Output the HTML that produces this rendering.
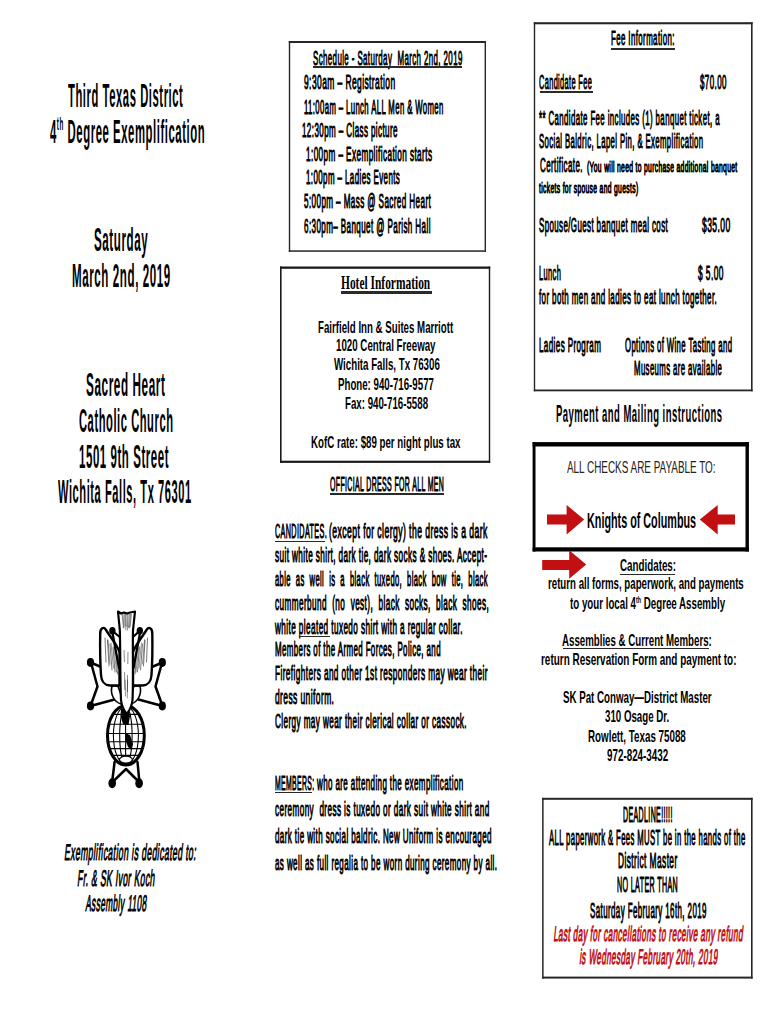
<!DOCTYPE html>
<html><head><meta charset="utf-8"><title>Third Texas District 4th Degree Exemplification</title>
<style>
html,body{margin:0;padding:0;background:#fff;}
body{width:770px;height:1024px;position:relative;overflow:hidden;font-family:"Liberation Sans", sans-serif;}
.t{position:absolute;white-space:pre;transform-origin:0 0;}
.fa,.fn{font-family:"Liberation Sans", sans-serif;}
.fa{letter-spacing:0.05em;}
.fs{font-family:"Liberation Serif", serif;}

.u{position:absolute;background:#2a2a2a;}
</style></head><body>
<div id="l1" class="t fa" style="left:68.02px;top:79.30px;font-weight:700;font-size:33.43px;line-height:33.43px;color:#000;transform:scaleX(0.3364)">Third Texas District</div>
<div id="l2" class="t fa" style="left:49.63px;top:116.42px;font-weight:700;font-size:32.70px;line-height:32.70px;color:#000;transform:scaleX(0.3462)">4<span style="font-size:0.55em;position:relative;top:-0.75em">th</span> Degree Exemplification</div>
<div id="l3" class="t fa" style="left:94.01px;top:223.15px;font-weight:700;font-size:33.14px;line-height:33.14px;color:#000;transform:scaleX(0.3504)">Saturday</div>
<div id="l4" class="t fa" style="left:72.05px;top:259.69px;font-weight:700;font-size:32.85px;line-height:32.85px;color:#000;transform:scaleX(0.3528)">March 2nd, 2019</div>
<div id="l5" class="t fa" style="left:86.41px;top:367.75px;font-weight:700;font-size:33.14px;line-height:33.14px;color:#000;transform:scaleX(0.3542)">Sacred Heart</div>
<div id="l6" class="t fa" style="left:78.91px;top:403.95px;font-weight:700;font-size:33.14px;line-height:33.14px;color:#000;transform:scaleX(0.3368)">Catholic Church</div>
<div id="l7" class="t fa" style="left:78.97px;top:439.95px;font-weight:700;font-size:33.14px;line-height:33.14px;color:#000;transform:scaleX(0.3459)">1501 9th Street</div>
<div id="l8" class="t fa" style="left:58.12px;top:475.05px;font-weight:700;font-size:33.14px;line-height:33.14px;color:#000;transform:scaleX(0.3354)">Wichita Falls, Tx 76301</div>
<div id="l9" class="t fa" style="left:66.29px;top:840.51px;font-weight:400;-webkit-text-stroke:1.00px #000;font-size:22.67px;line-height:22.67px;color:#000;transform:scaleX(0.3802) skewX(-15deg)">Exemplification is dedicated to:</div>
<div id="l10" class="t fa" style="left:78.77px;top:867.11px;font-weight:400;-webkit-text-stroke:1.00px #000;font-size:22.67px;line-height:22.67px;color:#000;transform:scaleX(0.3757) skewX(-15deg)">Fr. &amp; SK Ivor Koch</div>
<div id="l11" class="t fa" style="left:87.04px;top:892.41px;font-weight:400;-webkit-text-stroke:1.00px #000;font-size:22.67px;line-height:22.67px;color:#000;transform:scaleX(0.3661) skewX(-15deg)">Assembly 1108</div>
<div id="s0" class="t fa" style="left:312.89px;top:47.91px;font-weight:400;-webkit-text-stroke:1.00px #000;font-size:20.78px;line-height:20.78px;color:#000;transform:scaleX(0.3811)">Schedule - Saturday  March 2nd, 2019</div>
<div id="s1" class="t fa" style="left:303.89px;top:72.42px;font-weight:400;-webkit-text-stroke:1.00px #000;font-size:20.06px;line-height:20.06px;color:#000;transform:scaleX(0.4215)">9:30am – Registration</div>
<div id="s2" class="t fa" style="left:303.60px;top:96.52px;font-weight:400;-webkit-text-stroke:1.00px #000;font-size:20.06px;line-height:20.06px;color:#000;transform:scaleX(0.3862)">11:00am – Lunch ALL Men &amp; Women</div>
<div id="s3" class="t fa" style="left:302.09px;top:119.92px;font-weight:400;-webkit-text-stroke:1.00px #000;font-size:20.06px;line-height:20.06px;color:#000;transform:scaleX(0.4010)">12:30pm – Class picture</div>
<div id="s4" class="t fa" style="left:305.59px;top:144.02px;font-weight:400;-webkit-text-stroke:1.00px #000;font-size:20.06px;line-height:20.06px;color:#000;transform:scaleX(0.4082)">1:00pm – Exemplification starts</div>
<div id="s5" class="t fa" style="left:305.60px;top:167.22px;font-weight:400;-webkit-text-stroke:1.00px #000;font-size:20.06px;line-height:20.06px;color:#000;transform:scaleX(0.3974)">1:00pm – Ladies Events</div>
<div id="s6" class="t fa" style="left:303.60px;top:191.12px;font-weight:400;-webkit-text-stroke:1.00px #000;font-size:20.06px;line-height:20.06px;color:#000;transform:scaleX(0.4040)">5:00pm – Mass @ Sacred Heart</div>
<div id="s7" class="t fa" style="left:303.59px;top:216.12px;font-weight:400;-webkit-text-stroke:1.00px #000;font-size:20.06px;line-height:20.06px;color:#000;transform:scaleX(0.4017)">6:30pm– Banquet @ Parish Hall</div>
<div id="h0" class="t fs" style="left:341.33px;top:272.99px;font-weight:700;font-size:19.24px;line-height:19.24px;color:#000;transform:scaleX(0.5944)">Hotel Information</div>
<div id="h1" class="t fn" style="left:318.03px;top:319.77px;font-weight:700;font-size:15.99px;line-height:15.99px;color:#000;transform:scaleX(0.6064)">Fairfield Inn &amp; Suites Marriott</div>
<div id="h2" class="t fn" style="left:335.82px;top:337.97px;font-weight:700;font-size:15.99px;line-height:15.99px;color:#000;transform:scaleX(0.6088)">1020 Central Freeway</div>
<div id="h3" class="t fn" style="left:334.30px;top:356.87px;font-weight:700;font-size:15.99px;line-height:15.99px;color:#000;transform:scaleX(0.6082)">Wichita Falls, Tx 76306</div>
<div id="h4" class="t fn" style="left:337.82px;top:376.87px;font-weight:700;font-size:15.99px;line-height:15.99px;color:#000;transform:scaleX(0.6065)">Phone: 940-716-9577</div>
<div id="h5" class="t fn" style="left:344.61px;top:395.97px;font-weight:700;font-size:15.99px;line-height:15.99px;color:#000;transform:scaleX(0.6067)">Fax: 940-716-5588</div>
<div id="h6" class="t fn" style="left:311.42px;top:434.57px;font-weight:700;font-size:15.99px;line-height:15.99px;color:#000;transform:scaleX(0.6075)">KofC rate: $89 per night plus tax</div>
<div id="d0" class="t fa" style="left:329.59px;top:473.55px;font-weight:400;-webkit-text-stroke:1.00px #000;font-size:20.49px;line-height:20.49px;color:#000;transform:scaleX(0.3413)">OFFICIAL DRESS FOR ALL MEN</div>
<div id="c1a" class="t fa" style="left:274.60px;top:521.27px;font-weight:400;-webkit-text-stroke:1.00px #000;font-size:20.35px;line-height:20.35px;color:#000;transform:scaleX(0.3557)">CANDIDATES.</div>
<div id="c1b" class="t fa" style="left:329.39px;top:521.27px;font-weight:400;-webkit-text-stroke:1.00px #000;font-size:20.35px;line-height:20.35px;color:#000;transform:scaleX(0.4241)">(except for clergy) the dress is a dark</div>
<div id="c2" class="t fa" style="left:274.99px;top:545.27px;font-weight:400;-webkit-text-stroke:1.00px #000;font-size:20.35px;line-height:20.35px;color:#000;transform:scaleX(0.4010)">suit white shirt, dark tie, dark socks &amp; shoes. Accept-</div>
<div id="c3" class="t fa" style="left:274.96px;top:569.07px;font-weight:400;-webkit-text-stroke:1.00px #000;font-size:20.35px;line-height:20.35px;color:#000;transform:scaleX(0.3730)">able  as  well  is  a  black  tuxedo,  black  bow  tie,  black</div>
<div id="c4" class="t fa" style="left:274.97px;top:592.77px;font-weight:400;-webkit-text-stroke:1.00px #000;font-size:20.35px;line-height:20.35px;color:#000;transform:scaleX(0.4023)">cummerbund  (no  vest),  black  socks,  black  shoes,</div>
<div id="c5" class="t fa" style="left:274.97px;top:616.77px;font-weight:400;-webkit-text-stroke:1.00px #000;font-size:20.35px;line-height:20.35px;color:#000;transform:scaleX(0.4024)">white pleated tuxedo shirt with a regular collar.</div>
<div id="c6" class="t fa" style="left:275.09px;top:639.27px;font-weight:400;-webkit-text-stroke:1.00px #000;font-size:20.35px;line-height:20.35px;color:#000;transform:scaleX(0.3893)">Members of the Armed Forces, Police, and</div>
<div id="c7" class="t fa" style="left:275.10px;top:663.17px;font-weight:400;-webkit-text-stroke:1.00px #000;font-size:20.35px;line-height:20.35px;color:#000;transform:scaleX(0.4052)">Firefighters and other 1st responders may wear their</div>
<div id="c8" class="t fa" style="left:275.00px;top:687.27px;font-weight:400;-webkit-text-stroke:1.00px #000;font-size:20.35px;line-height:20.35px;color:#000;transform:scaleX(0.4146)">dress uniform.</div>
<div id="c9" class="t fa" style="left:275.09px;top:710.77px;font-weight:400;-webkit-text-stroke:1.00px #000;font-size:20.35px;line-height:20.35px;color:#000;transform:scaleX(0.4005)">Clergy may wear their clerical collar or cassock.</div>
<div id="m1a" class="t fa" style="left:274.91px;top:772.57px;font-weight:400;-webkit-text-stroke:1.00px #000;font-size:20.35px;line-height:20.35px;color:#000;transform:scaleX(0.3380)">MEMBERS:</div>
<div id="m1b" class="t fa" style="left:317.29px;top:772.57px;font-weight:400;-webkit-text-stroke:1.00px #000;font-size:20.35px;line-height:20.35px;color:#000;transform:scaleX(0.3924)">who are attending the exemplification</div>
<div id="m2" class="t fa" style="left:275.01px;top:799.17px;font-weight:400;-webkit-text-stroke:1.00px #000;font-size:20.35px;line-height:20.35px;color:#000;transform:scaleX(0.4009)">ceremony  dress is tuxedo or dark suit white shirt and</div>
<div id="m3" class="t fa" style="left:275.02px;top:826.37px;font-weight:400;-webkit-text-stroke:1.00px #000;font-size:20.35px;line-height:20.35px;color:#000;transform:scaleX(0.3943)">dark tie with social baldric. New Uniform is encouraged</div>
<div id="m4" class="t fa" style="left:275.01px;top:852.67px;font-weight:400;-webkit-text-stroke:1.00px #000;font-size:20.35px;line-height:20.35px;color:#000;transform:scaleX(0.3948)">as well as full regalia to be worn during ceremony by all.</div>
<div id="f0" class="t fa" style="left:611.16px;top:28.37px;font-weight:400;-webkit-text-stroke:1.00px #000;font-size:20.35px;line-height:20.35px;color:#000;transform:scaleX(0.3880)">Fee Information:</div>
<div id="f1" class="t fa" style="left:539.18px;top:72.42px;font-weight:400;-webkit-text-stroke:1.00px #000;font-size:20.06px;line-height:20.06px;color:#000;transform:scaleX(0.3678)">Candidate Fee</div>
<div id="f2" class="t fa" style="left:700.32px;top:72.42px;font-weight:400;-webkit-text-stroke:1.00px #000;font-size:20.06px;line-height:20.06px;color:#000;transform:scaleX(0.3985)">$70.00</div>
<div id="f3" class="t fa" style="left:539.00px;top:108.37px;font-weight:400;-webkit-text-stroke:1.00px #000;font-size:20.35px;line-height:20.35px;color:#000;transform:scaleX(0.3862)">** Candidate Fee includes (1) banquet ticket, a</div>
<div id="f4" class="t fa" style="left:539.00px;top:131.27px;font-weight:400;-webkit-text-stroke:1.00px #000;font-size:20.35px;line-height:20.35px;color:#000;transform:scaleX(0.3811)">Social Baldric, Lapel Pin, &amp; Exemplification</div>
<div id="f5" class="t fa" style="left:539.53px;top:154.87px;font-weight:400;-webkit-text-stroke:1.00px #000;font-size:20.35px;line-height:20.35px;color:#000;transform:scaleX(0.3916)">Certificate.</div>
<div id="f5b" class="t fa" style="left:586.79px;top:159.84px;font-weight:400;-webkit-text-stroke:1.00px #000;font-size:14.24px;line-height:14.24px;color:#000;transform:scaleX(0.4722)">(You will need to purchase additional banquet</div>
<div id="f6" class="t fa" style="left:539.19px;top:181.00px;font-weight:400;-webkit-text-stroke:1.00px #000;font-size:14.53px;line-height:14.53px;color:#000;transform:scaleX(0.4634)">tickets for spouse and guests)</div>
<div id="f7" class="t fa" style="left:539.00px;top:214.97px;font-weight:400;-webkit-text-stroke:1.00px #000;font-size:20.35px;line-height:20.35px;color:#000;transform:scaleX(0.3897)">Spouse/Guest banquet meal cost</div>
<div id="f8" class="t fa" style="left:702.16px;top:214.97px;font-weight:400;-webkit-text-stroke:1.00px #000;font-size:20.35px;line-height:20.35px;color:#000;transform:scaleX(0.4192)">$35.00</div>
<div id="f9" class="t fa" style="left:539.00px;top:262.97px;font-weight:400;-webkit-text-stroke:1.00px #000;font-size:20.35px;line-height:20.35px;color:#000;transform:scaleX(0.3667)">Lunch</div>
<div id="f10" class="t fa" style="left:698.42px;top:262.97px;font-weight:400;-webkit-text-stroke:1.00px #000;font-size:20.35px;line-height:20.35px;color:#000;transform:scaleX(0.4133)">$ 5.00</div>
<div id="f11" class="t fa" style="left:539.00px;top:286.77px;font-weight:400;-webkit-text-stroke:1.00px #000;font-size:20.35px;line-height:20.35px;color:#000;transform:scaleX(0.3915)">for both men and ladies to eat lunch together.</div>
<div id="f12" class="t fa" style="left:539.00px;top:335.17px;font-weight:400;-webkit-text-stroke:1.00px #000;font-size:20.35px;line-height:20.35px;color:#000;transform:scaleX(0.3944)">Ladies Program</div>
<div id="f13" class="t fa" style="left:625.00px;top:335.17px;font-weight:400;-webkit-text-stroke:1.00px #000;font-size:20.35px;line-height:20.35px;color:#000;transform:scaleX(0.3813)">Options of Wine Tasting and</div>
<div id="f14" class="t fa" style="left:634.00px;top:357.57px;font-weight:400;-webkit-text-stroke:1.00px #000;font-size:20.35px;line-height:20.35px;color:#000;transform:scaleX(0.3828)">Museums are available</div>
<div id="p0" class="t fa" style="left:555.74px;top:401.68px;font-weight:700;font-size:24.71px;line-height:24.71px;color:#000;transform:scaleX(0.3844)">Payment and Mailing instructions</div>
<div id="k1" class="t fn" style="left:566.58px;top:459.20px;font-weight:400;font-size:16.42px;line-height:16.42px;color:#222;transform:scaleX(0.6042)">ALL CHECKS ARE PAYABLE TO:</div>
<div id="k2" class="t fn" style="left:586.77px;top:509.84px;font-weight:700;font-size:21.80px;line-height:21.80px;color:#000;transform:scaleX(0.4949)">Knights of Columbus</div>
<div id="k3" class="t fn" style="left:619.86px;top:557.61px;font-weight:700;font-size:15.70px;line-height:15.70px;color:#000;transform:scaleX(0.6245)">Candidates:</div>
<div id="k4" class="t fn" style="left:548.37px;top:576.47px;font-weight:700;font-size:15.99px;line-height:15.99px;color:#000;transform:scaleX(0.6054)">return all forms, paperwork, and payments</div>
<div id="k5" class="t fn" style="left:569.56px;top:596.37px;font-weight:700;font-size:15.99px;line-height:15.99px;color:#000;transform:scaleX(0.6089)">to your local 4<span style="font-size:0.55em;position:relative;top:-0.75em">th</span> Degree Assembly</div>
<div id="k6" class="t fn" style="left:562.01px;top:633.07px;font-weight:700;font-size:15.99px;line-height:15.99px;color:#000;transform:scaleX(0.6065)">Assemblies &amp; Current Members:</div>
<div id="k7" class="t fn" style="left:540.67px;top:652.17px;font-weight:700;font-size:15.99px;line-height:15.99px;color:#000;transform:scaleX(0.6218)">return Reservation Form and payment to:</div>
<div id="k8" class="t fn" style="left:562.61px;top:690.03px;font-weight:700;font-size:16.86px;line-height:16.86px;color:#000;transform:scaleX(0.5767)">SK Pat Conway—District Master</div>
<div id="k9" class="t fn" style="left:605.20px;top:709.23px;font-weight:700;font-size:16.86px;line-height:16.86px;color:#000;transform:scaleX(0.5757)">310 Osage Dr.</div>
<div id="k10" class="t fn" style="left:588.27px;top:729.03px;font-weight:700;font-size:16.86px;line-height:16.86px;color:#000;transform:scaleX(0.5808)">Rowlett, Texas 75088</div>
<div id="k11" class="t fn" style="left:607.43px;top:747.73px;font-weight:700;font-size:16.86px;line-height:16.86px;color:#000;transform:scaleX(0.5828)">972-824-3432</div>
<div id="x1" class="t fa" style="left:623.30px;top:804.34px;font-weight:400;-webkit-text-stroke:1.00px #000;font-size:21.22px;line-height:21.22px;color:#000;transform:scaleX(0.3328)">DEADLINE!!!!!</div>
<div id="x2" class="t fa" style="left:549.21px;top:826.64px;font-weight:400;-webkit-text-stroke:1.00px #000;font-size:21.22px;line-height:21.22px;color:#000;transform:scaleX(0.3629)">ALL paperwork &amp; Fees MUST be in the hands of the</div>
<div id="x3" class="t fa" style="left:617.71px;top:850.34px;font-weight:400;-webkit-text-stroke:1.00px #000;font-size:21.22px;line-height:21.22px;color:#000;transform:scaleX(0.3936)">District Master</div>
<div id="x4" class="t fa" style="left:617.18px;top:873.94px;font-weight:400;-webkit-text-stroke:1.00px #000;font-size:21.22px;line-height:21.22px;color:#000;transform:scaleX(0.3366)">NO LATER THAN</div>
<div id="x5" class="t fa" style="left:589.70px;top:899.54px;font-weight:400;-webkit-text-stroke:1.00px #000;font-size:21.22px;line-height:21.22px;color:#000;transform:scaleX(0.3750)">Saturday February 16th, 2019</div>
<div id="x6" class="t fa" style="left:555.39px;top:923.04px;font-weight:400;-webkit-text-stroke:1.00px #c00d10;font-size:21.22px;line-height:21.22px;color:#c00d10;transform:scaleX(0.3838) skewX(-15deg)">Last day for cancellations to receive any refund</div>
<div id="x7" class="t fa" style="left:581.41px;top:946.44px;font-weight:400;-webkit-text-stroke:1.00px #c00d10;font-size:21.22px;line-height:21.22px;color:#c00d10;transform:scaleX(0.3808) skewX(-15deg)">is Wednesday February 20th, 2019</div>
<svg class="b" style="position:absolute;left:0;top:0" width="770" height="1024" viewBox="0 0 770 1024"><rect x="288.8" y="41.0" width="197.20" height="2.00" fill="#262626"/><rect x="288.8" y="250.3" width="197.20" height="1.50" fill="#262626"/><rect x="288.8" y="41.0" width="1.40" height="210.80" fill="#262626"/><rect x="484.6" y="41.0" width="1.40" height="210.80" fill="#262626"/><rect x="280.0" y="266.5" width="210.20" height="2.30" fill="#1a1a1a"/><rect x="280.0" y="460.7" width="210.20" height="2.20" fill="#1a1a1a"/><rect x="280.0" y="266.5" width="1.60" height="196.40" fill="#1a1a1a"/><rect x="488.8" y="266.5" width="1.40" height="196.40" fill="#1a1a1a"/><rect x="533.8" y="22.2" width="218.80" height="2.10" fill="#262626"/><rect x="533.8" y="389.5" width="218.80" height="1.80" fill="#262626"/><rect x="533.8" y="22.2" width="1.40" height="369.10" fill="#262626"/><rect x="751.0" y="22.2" width="1.60" height="369.10" fill="#262626"/><rect x="532.6" y="442.1" width="216.30" height="4.40" fill="#000"/><rect x="532.6" y="547.3" width="216.30" height="4.20" fill="#000"/><rect x="532.6" y="442.1" width="2.90" height="109.40" fill="#000"/><rect x="745.5" y="442.1" width="3.40" height="109.40" fill="#000"/><rect x="542.1" y="797.8" width="210.50" height="2.00" fill="#262626"/><rect x="542.1" y="976.6" width="210.50" height="2.00" fill="#262626"/><rect x="542.1" y="797.8" width="1.50" height="180.80" fill="#262626"/><rect x="751.0" y="797.8" width="1.60" height="180.80" fill="#262626"/></svg>
<div class="u" style="left:312.6px;top:66.3px;width:149.70px;height:2.0px"></div>
<div class="u" style="left:340.5px;top:291.3px;width:91.30px;height:2.3px"></div>
<div class="u" style="left:329.9px;top:493.0px;width:113.70px;height:1.5px"></div>
<div class="u" style="left:274.9px;top:540.9px;width:50.10px;height:1.4px"></div>
<div class="u" style="left:299.3px;top:636.0px;width:30.70px;height:1.4px"></div>
<div class="u" style="left:274.7px;top:791.6px;width:37.50px;height:1.5px"></div>
<div class="u" style="left:611.4px;top:47.8px;width:63.20px;height:1.8px"></div>
<div class="u" style="left:539.5px;top:91.1px;width:53.50px;height:1.8px"></div>
<div class="u" style="left:619.9px;top:573.8px;width:54.70px;height:1.7px"></div>
<div class="u" style="left:562.7px;top:647.5px;width:146.30px;height:1.9px"></div>
<svg style="position:absolute;left:80px;top:600px" width="90" height="195" viewBox="80 600 90 195">
<g fill="none" stroke="#000" stroke-linecap="round" stroke-linejoin="round">
 <!-- cross arms lines -->
 <path d="M90.5 662.5 L100 666.5 M91.5 664.5 L97.5 686.5 L90.5 706 L114.5 699.5" stroke-width="2.5"/>
 <path d="M162.5 662.5 L153 666.5 M161.5 664.5 L155.5 686.5 L162.5 706 L138.5 699.5" stroke-width="2.5"/>
 <path d="M114.6 762 L112 783 M137.5 762 L139.5 783 M112.5 782 L126 769 L139 782" stroke-width="2.5"/>
 <path d="M112.4 631 L120.4 637.5 M139.6 631 L132.4 637.5" stroke-width="2.2"/>
</g>
<g fill="#000">
 <ellipse cx="90.5" cy="662.5" rx="3.6" ry="4.4"/>
 <ellipse cx="90.5" cy="706" rx="3.6" ry="4.4"/>
 <ellipse cx="162.3" cy="662.5" rx="3.6" ry="4.4"/>
 <ellipse cx="162.3" cy="706" rx="3.6" ry="4.4"/>
 <ellipse cx="112.2" cy="783.3" rx="3.8" ry="5"/>
 <ellipse cx="139.1" cy="783.3" rx="3.8" ry="5"/>
 <ellipse cx="112.4" cy="630.8" rx="3.2" ry="3.8"/>
 <ellipse cx="139.8" cy="630.8" rx="3.2" ry="3.8"/>
</g>
<defs><clipPath id="gc"><ellipse cx="125.9" cy="735.4" rx="18" ry="29.4"/></clipPath></defs>
<!-- globe -->
<g>
 <ellipse cx="125.9" cy="735.4" rx="18.4" ry="29.7" fill="#fff" stroke="#000" stroke-width="3"/>
 <g stroke="#000" stroke-width="1.1" fill="none" clip-path="url(#gc)">
  <path d="M109 714.4 H143 M107.5 724.2 H144.5 M107.2 733.5 H144.8 M107.5 741.8 H144.5 M109 748.6 H143 M111 755.4 H141"/>
  <ellipse cx="125.9" cy="735.4" rx="12.5" ry="29"/>
  <ellipse cx="125.9" cy="735.4" rx="6.2" ry="29"/>
  <path d="M125.6 706.5 V764"/>
 </g>
 <path d="M121 709 L128.5 708 L130 716 L128.5 725 L123 724 L120.5 716 Z M125 733 L130 735 L133 744 L131.5 750 L128 747 L125.5 740 Z" fill="#000"/>
 <ellipse cx="125.9" cy="759.6" rx="6.5" ry="3.4" fill="#fff" stroke="#000" stroke-width="1.2"/>
</g>
<!-- dove legs lobes -->
<path d="M112 686 C110 694 114 702 121 704 L123 700 C121 694 119 690 118 686 Z" fill="#fff" stroke="#000" stroke-width="1.6"/>
<path d="M140 686 C142 694 138 702 131 704 L129 700 C131 694 133 690 134 686 Z" fill="#fff" stroke="#000" stroke-width="1.6"/>
<!-- wings -->
<path d="M100.2 634 C100 628 104 626 106 630 C111 638 117 645 119.5 652 L119.5 685.5 L110 685.5 C104 685 101.5 682 101 675 C100 660 100 645 100.2 634 Z" fill="#fff" stroke="#000" stroke-width="2.4"/>
<path d="M152.3 634 C152.5 628 148.5 626 146.5 630 C141.5 638 135.5 645 133 652 L133 685.5 L142.5 685.5 C148.5 685 151 682 151.5 675 C152.5 660 152.5 645 152.3 634 Z" fill="#fff" stroke="#000" stroke-width="2.4"/>
<g stroke="#000" fill="none" stroke-linecap="round">
 <path d="M112.5 633 L119 668 M140 633 L133.5 668" stroke-width="2.3"/>
 <path d="M105 638 L106 662 M107.5 640 L109 666 M110 644 L112 670 M113 647 L115 672 M116 652 L117.5 674" stroke-width="0.7" opacity="0.75"/>
 <path d="M147.5 638 L146.5 662 M145 640 L143.5 666 M142.5 644 L140.5 670 M139.5 647 L137.5 672 M136.5 652 L135 674" stroke-width="0.7" opacity="0.75"/>
</g>
<!-- dove tail/body -->
<path d="M118 611.5 L121 613.5 L124 612.5 L127 613.5 L130 612.5 L135 611.5 L133 630 C132.5 650 133.5 680 132.5 700 C132 706 129 711 126.8 714 C124.5 711 121.5 706 121 700 C120 680 120.5 650 119.8 630 Z" fill="#fff" stroke="#000" stroke-width="2.2" stroke-linejoin="round"/>
<g stroke="#000" stroke-width="0.6" fill="none" opacity="0.75">
 <path d="M122 614 L123.5 628 M124.5 613 L125 626 M127 613 L126.8 627 M129.5 613 L128.5 628 M131.5 614 L130 627"/>
 <path d="M124 650 L124.5 662 M128 652 L127.8 664 M124.5 672 L125 690 M127.5 675 L127.5 692"/>
</g>
<g stroke="#000" fill="none" stroke-linecap="round" opacity="0.7">
 <path d="M108 640 L110 664 M111 643 L113.5 668 M114 648 L116.5 672" stroke-width="0.6"/>
 <path d="M144.5 640 L142.5 664 M141.5 643 L139 668 M138.5 648 L136 672" stroke-width="0.6"/>
 <path d="M123 614 L124 628 M125.5 614 L125.8 630 M128 614 L127.5 630 M130.5 614 L129.5 628 M125 680 L125.5 696 M127.5 680 L127.3 698" stroke-width="0.6"/>
</g>
</svg>

<svg style="position:absolute;left:0;top:0" width="770" height="1024" viewBox="0 0 770 1024">
<g fill="#c10f12">
<polygon points="547,514.5 566.6,514.5 566.6,505 584.2,519.6 566.6,534.5 566.6,524.5 547,524.5"/>
<polygon points="735,514.5 717.7,514.5 717.7,505 699.8,519.6 717.7,534.5 717.7,524.5 735,524.5"/>
<polygon points="542.2,560 569.2,560 569.2,550.2 586.2,564.6 569.2,578.8 569.2,570 542.2,570"/>
</g>
</svg>

</body></html>
